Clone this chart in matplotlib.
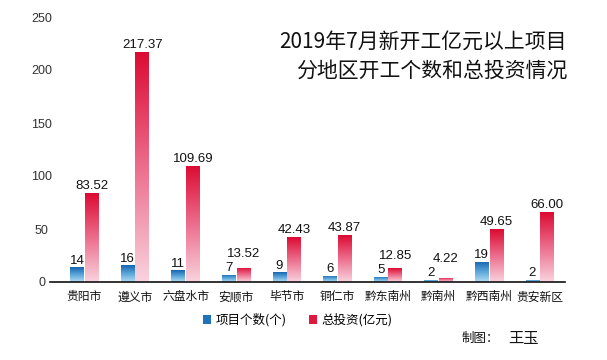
import numpy as np
import matplotlib.pyplot as plt
from matplotlib.colors import LinearSegmentedColormap
from matplotlib.patches import Patch

plt.rcParams['font.family'] = ['Noto Sans CJK SC', 'DejaVu Sans']

regions = ['贵阳市', '遵义市', '六盘水市', '安顺市', '毕节市', '铜仁市',
           '黔东南州', '黔南州', '黔西南州', '贵安新区']
project_counts = [14, 16, 11, 7, 9, 6, 5, 2, 19, 2]
investment = [83.52, 217.37, 109.69, 13.52, 42.43, 43.87, 12.85, 4.22, 49.65, 66.00]
yticks = [0, 50, 100, 150, 200, 250]

blue_cmap = LinearSegmentedColormap.from_list('b', ['#b4dcf2', '#5aa6da', '#1565b0'])
red_cmap = LinearSegmentedColormap.from_list('r', ['#f9d3de', '#ec6d8c', '#dc0a32'])

fig = plt.figure(figsize=(6.07, 3.6), dpi=100)
ax = fig.add_axes([50 / 607, 1 - 282 / 360, 515 / 607, 265 / 360])

grad = np.linspace(0, 1, 256).reshape(-1, 1)
w = 0.27
x = np.arange(len(regions))
num_font = 'Liberation Sans'


def gradient_bar(xc, h, cmap):
    x0, x1 = xc - w / 2, xc + w / 2
    im = ax.imshow(grad, extent=[x0, x1, 0, h], origin='lower', aspect='auto',
                   cmap=cmap, zorder=2)
    rect = plt.Rectangle((x0, 0), w, h, transform=ax.transData)
    im.set_clip_path(rect)


for i in x:
    xb = i - w / 2 - 0.01
    xr = i + w / 2 + 0.01
    gradient_bar(xb, project_counts[i], blue_cmap)
    gradient_bar(xr, investment[i], red_cmap)
    ax.text(xb, project_counts[i] + 0.5, str(project_counts[i]), ha='center', va='bottom',
            fontsize=9.5, color='#111111', family=num_font)
    # lift red labels above the blue ones when the bars are short
    ry = max(investment[i] + 1, project_counts[i] + 14)
    ax.text(xr, ry, '%.2f' % investment[i], ha='center', va='bottom',
            fontsize=9.5, color='#111111', family=num_font)

ax.set_xlim(-0.68, 9.5)
ax.set_ylim(0, 250)
ax.set_yticks(yticks)
ax.set_yticklabels([str(t) for t in yticks], fontsize=9, color='#333333', family=num_font,
                   ha='center')
ax.set_xticks(x)
ax.set_xticklabels(regions, fontsize=8.5, color='#111111')
ax.tick_params(axis='both', length=0)
ax.tick_params(axis='x', pad=6)
ax.tick_params(axis='y', pad=6)
for s in ['top', 'right', 'left']:
    ax.spines[s].set_visible(False)
ax.spines['bottom'].set_color('#111111')
ax.spines['bottom'].set_linewidth(1.2)
ax.spines['bottom'].set_zorder(3)

fig.text(567 / 607, 1 - 42 / 360, '2019年7月新开工亿元以上项目', ha='right', va='center',
         fontsize=15, color='#111111')
fig.text(567 / 607, 1 - 71 / 360, '分地区开工个数和总投资情况', ha='right', va='center',
         fontsize=15, color='#111111')

handles = [Patch(facecolor='#1f73ba', label='项目个数(个)'),
           Patch(facecolor='#e0173f', label='总投资(亿元)')]
fig.legend(handles=handles, loc='center', bbox_to_anchor=(0.49, 1 - 320 / 360), ncol=2,
           frameon=False, fontsize=9, handlelength=0.7, handleheight=0.7,
           handletextpad=0.3, columnspacing=1.8)

fig.text(462 / 607, 1 - 338 / 360, '制图：', ha='left', va='center', fontsize=9,
         color='#111111')
fig.text(508 / 607, 1 - 338 / 360, '王玉', ha='left', va='center', fontsize=11,
         color='#111111')

fig.savefig('out.png', dpi=100)
